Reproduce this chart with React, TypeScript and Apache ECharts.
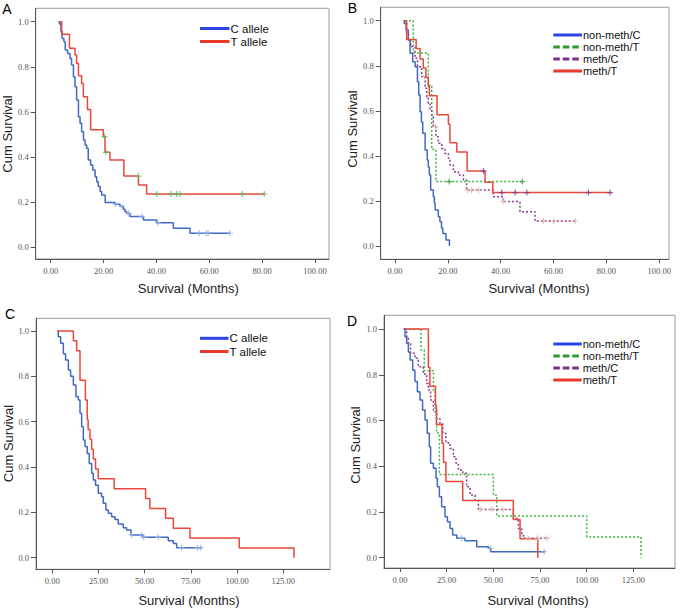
import React, { useEffect, useRef } from "react";
import * as echarts from "echarts";

// ---------- shared labels ----------
const panelLetters = ["A", "B", "C", "D"];
const xName = "Survival (Months)";
const yName = "Cum Survival";
const legendAllele = ["C allele", "T allele"];
const legendMeth = ["non-meth/C", "non-meth/T", "meth/C", "meth/T"];
const xTicks100 = [0, 20, 40, 60, 80, 100];
const xTicks125 = [0, 25, 50, 75, 100, 125];
const yTicks = [0, 0.2, 0.4, 0.6, 0.8, 1.0];

// ---------- Panel A ----------
const aCTime = [2.9, 3.3, 3.9, 4.3, 5.0, 5.5, 6.4, 7.3, 7.9, 8.6, 9.2, 9.8, 10.5, 11.1, 11.7, 12.4, 13.0, 13.6, 14.2, 15.1, 15.9, 16.8, 17.4, 18.0, 18.7, 19.3, 20.6, 24.3, 26.2, 27.5, 28.1, 28.7, 30.0, 35.1, 40.1, 46.4, 52.7, 67.8];
const aCSurv = [1.0, 0.99, 0.956, 0.926, 0.911, 0.874, 0.859, 0.837, 0.808, 0.756, 0.711, 0.652, 0.578, 0.549, 0.512, 0.475, 0.453, 0.438, 0.386, 0.364, 0.342, 0.312, 0.29, 0.268, 0.246, 0.231, 0.198, 0.19, 0.18, 0.168, 0.157, 0.149, 0.135, 0.12, 0.108, 0.083, 0.061, 0.061];
const aCCens = [24.5, 27.0, 29.5, 34.5, 40.5, 56.2, 58.8, 59.6, 67.8];
const aTTime = [3.3, 4.15, 7.1, 9.2, 9.8, 10.5, 11.7, 12.35, 13.9, 15.1, 19.9, 20.55, 22.4, 27.7, 33.2, 36.3, 80.8];
const aTSurv = [1.0, 0.944, 0.882, 0.852, 0.815, 0.76, 0.726, 0.667, 0.61, 0.52, 0.49, 0.42, 0.386, 0.315, 0.275, 0.235, 0.235];
const aTCens = [20.3, 20.9, 33.1, 40.1, 45.5, 47.7, 48.9, 72.5, 80.8];

// ---------- Panel B ----------
const bNCTime = [3.2, 3.5, 4.2, 5.05, 5.7, 6.7, 7.6, 8.5, 9.0, 9.5, 10.0, 10.5, 11.4, 12.2, 12.6, 13.0, 13.5, 14.5, 14.9, 15.2, 16.4, 17.0, 17.6, 18.1, 19.3, 20.6];
const bNCSurv = [1.0, 0.988, 0.959, 0.914, 0.855, 0.818, 0.796, 0.729, 0.67, 0.596, 0.55, 0.5, 0.426, 0.382, 0.35, 0.315, 0.249, 0.219, 0.19, 0.16, 0.13, 0.108, 0.08, 0.056, 0.027, 0.0];
const bNTTime = [3.8, 6.9, 12.6, 13.9, 15.5, 48.2];
const bNTSurv = [1.0, 0.857, 0.714, 0.429, 0.286, 0.286];
const bNTCens = [20.5, 48.2];
const bMCTime = [3.8, 4.4, 5.05, 5.9, 7.6, 8.5, 10.1, 11.4, 12.0, 12.6, 13.3, 13.9, 14.5, 15.5, 16.4, 17.7, 18.9, 20.2, 20.8, 22.1, 24.0, 25.9, 27.1, 37.2, 41.0, 47.3, 53.0, 68.2];
const bMCSurv = [1.0, 0.944, 0.914, 0.885, 0.833, 0.796, 0.752, 0.7, 0.663, 0.633, 0.604, 0.574, 0.53, 0.485, 0.456, 0.433, 0.411, 0.389, 0.36, 0.33, 0.315, 0.293, 0.249, 0.219, 0.197, 0.152, 0.111, 0.111];
const bMCCens = [15.2, 27.5, 29.0, 31.6, 41.0, 56.2, 60.0, 68.2];
const bMTTime = [3.5, 4.4, 8.0, 9.5, 10.7, 11.7, 12.6, 13.0, 15.9, 20.2, 20.8, 23.4, 27.3, 34.1, 37.0, 81.4];
const bMTSurv = [1.0, 0.917, 0.877, 0.83, 0.79, 0.75, 0.708, 0.667, 0.583, 0.54, 0.458, 0.417, 0.333, 0.283, 0.237, 0.237];
const bMTCens = [33.5, 40.4, 45.5, 49.9, 73.2, 81.4];

// ---------- Panel C ----------
const cCTime = [2.7, 3.2, 4.5, 6.0, 7.2, 8.7, 9.9, 11.4, 12.8, 14.1, 15.0, 15.9, 16.8, 17.7, 18.9, 20.0, 21.3, 22.2, 23.4, 24.9, 26.7, 27.6, 29.0, 30.3, 32.1, 33.9, 35.7, 38.4, 40.2, 42.6, 49.2, 62.8, 65.5, 67.3, 80.8];
const cCSurv = [1.0, 0.975, 0.946, 0.9, 0.872, 0.828, 0.8, 0.762, 0.71, 0.696, 0.637, 0.578, 0.519, 0.49, 0.46, 0.416, 0.372, 0.343, 0.32, 0.284, 0.269, 0.24, 0.21, 0.196, 0.181, 0.169, 0.149, 0.132, 0.122, 0.1, 0.09, 0.075, 0.063, 0.044, 0.044];
const cCCens = [42.9, 48.3, 49.5, 57.4, 70.0, 78.6, 80.3];
const cTTime = [2.7, 11.4, 13.2, 15.0, 17.9, 18.9, 19.4, 20.4, 21.3, 22.2, 23.4, 24.9, 33.5, 50.5, 52.8, 61.3, 65.5, 74.5, 101.2, 130.8];
const cTSurv = [1.0, 0.957, 0.913, 0.783, 0.696, 0.609, 0.565, 0.522, 0.478, 0.435, 0.391, 0.348, 0.304, 0.261, 0.217, 0.174, 0.13, 0.087, 0.043, 0.0];

// ---------- Panel D ----------
const dNCTime = [1.8, 2.7, 3.6, 4.5, 5.4, 6.8, 8.0, 9.3, 10.7, 12.1, 13.4, 14.6, 15.7, 16.4, 17.9, 19.3, 20.0, 21.1, 22.3, 24.1, 25.4, 26.8, 28.2, 30.4, 34.8, 41.1, 47.3, 48.6, 77.7];
const dNCSurv = [1.0, 0.966, 0.937, 0.9, 0.864, 0.82, 0.77, 0.726, 0.69, 0.646, 0.602, 0.544, 0.485, 0.413, 0.391, 0.347, 0.31, 0.267, 0.223, 0.179, 0.157, 0.128, 0.099, 0.085, 0.074, 0.048, 0.041, 0.026, 0.026];
const dNCCens = [33.0, 48.2, 77.2];
const dNTTime = [2.7, 11.25, 13.0, 17.9, 18.8, 19.6, 21.1, 50.0, 51.8, 100.0, 129.1];
const dNTSurv = [1.0, 0.909, 0.818, 0.727, 0.636, 0.545, 0.364, 0.273, 0.182, 0.091, 0.0];
const dMCTime = [2.7, 3.6, 4.5, 5.7, 8.0, 9.8, 12.5, 14.3, 15.2, 16.4, 17.9, 19.6, 21.4, 22.9, 24.6, 26.8, 28.6, 30.0, 31.3, 33.6, 35.7, 37.5, 40.2, 42.0, 60.7, 63.4, 65.2, 66.1, 79.5];
const dMCSurv = [1.0, 0.966, 0.937, 0.894, 0.872, 0.835, 0.803, 0.762, 0.733, 0.69, 0.646, 0.609, 0.587, 0.544, 0.503, 0.478, 0.442, 0.413, 0.383, 0.369, 0.31, 0.274, 0.252, 0.211, 0.172, 0.128, 0.106, 0.085, 0.085];
const dMCCens = [42.9, 49.1, 55.0, 68.6, 73.6, 78.6];
const dMTTime = [2.3, 15.2, 16.0, 19.0, 19.5, 22.5, 23.3, 24.6, 33.6, 60.7, 64.3, 73.8];
const dMTSurv = [1.0, 0.833, 0.75, 0.667, 0.583, 0.5, 0.417, 0.333, 0.25, 0.167, 0.083, 0.0];

// ---------- styles ----------
const BLUE = "#4169c4";
const RED = "#e8473b";
const GREEN = "#3fb83f";
const PURPLE = "#8b3a96";
const LEG_BLUE = "#2a44e8";
const LEG_RED = "#e8392b";
const LEG_GREEN = "#2e9a2e";
const LEG_PURPLE = "#7b2d8b";
const PLUS = "path://M4,0h2v4h4v2h-4v4h-2v-4h-4v-2h4z";

const panels = [
  { left: 35.7, top: 8.3, width: 293.3, height: 250.7, xmin: -5.68, xmax: 105.3, ymin: -0.0533, ymax: 1.0595, ticks: xTicks100 },
  { left: 380.7, top: 7.3, width: 288.3, height: 252, xmin: -5.41, xmax: 103.7, ymin: -0.059, ymax: 1.0595, ticks: xTicks100 },
  { left: 36, top: 318.3, width: 294, height: 251, xmin: -8.82, xmax: 150.3, ymin: -0.0512, ymax: 1.056, ticks: xTicks125 },
  { left: 384, top: 315.3, width: 291, height: 252.7, xmin: -8.57, xmax: 147.3, ymin: -0.045, ymax: 1.06, ticks: xTicks125 },
];

function survAt(times: number[], surv: number[], t: number) {
  let v = surv[0];
  for (let i = 0; i < times.length; i++) if (times[i] <= t) v = surv[i];
  return v;
}

function km(g: number, times: number[], surv: number[], color: string, dotted: boolean, z: number) {
  return {
    type: "line",
    xAxisIndex: g,
    yAxisIndex: g,
    step: "end",
    symbol: "none",
    showSymbol: false,
    silent: true,
    z,
    data: times.map((t, i) => [t, surv[i]]),
    lineStyle: { color, width: 1.5, type: dotted ? [2, 2] : "solid" },
    itemStyle: { color },
  };
}

function cens(g: number, times: number[], surv: number[], ct: number[], color: string, z: number) {
  return {
    type: "scatter",
    xAxisIndex: g,
    yAxisIndex: g,
    symbol: PLUS,
    symbolSize: 6,
    silent: true,
    z,
    data: ct.map((t) => [t, survAt(times, surv, t)]),
    itemStyle: { color },
  };
}

function legendBlock(x1: number, x2: number, ys: number[], names: string[], colors: string[], dashed: boolean[], fontSize: number) {
  const els: any[] = [];
  names.forEach((n, i) => {
    const style: any = { stroke: colors[i], lineWidth: 3, fill: null };
    if (dashed[i]) style.lineDash = [6.5, 3];
    els.push({
      type: "line",
      z: 100,
      shape: { x1, y1: ys[i], x2, y2: ys[i] },
      style,
      silent: true,
    });
    els.push({
      type: "text",
      z: 100,
      x: x2 + 1,
      y: ys[i],
      style: { text: n, fontSize, fontFamily: "Liberation Sans, Arial, sans-serif", fill: "#111", verticalAlign: "middle", align: "left" },
      silent: true,
    });
  });
  return els;
}

function textEl(text: string, x: number, y: number, size: number, rotate = false, fill = "#222") {
  return {
    type: "text",
    x,
    y,
    rotation: rotate ? Math.PI / 2 : 0,
    style: { text, fontSize: size, fontFamily: "Liberation Sans, Arial, sans-serif", fill, align: "center", verticalAlign: "middle" },
    silent: true,
  };
}

export default function App() {
  const ref = useRef<HTMLDivElement>(null);
  useEffect(() => {
    if (!ref.current) return;
    const chart = echarts.init(ref.current, undefined, { renderer: "svg" });
    const tickFont = { fontFamily: "Liberation Serif, serif", fontSize: 8.5, color: "#555" };
    const option: any = {
      animation: false,
      backgroundColor: "#ffffff",
      grid: panels.map((p) => ({
        left: p.left,
        top: p.top,
        width: p.width,
        height: p.height,
        show: true,
        borderColor: "#9a9a9a",
        borderWidth: 1,
        backgroundColor: "transparent",
      })),
      xAxis: panels.map((p, i) => ({
        type: "value",
        gridIndex: i,
        min: p.xmin,
        max: p.xmax,
        splitLine: { show: false },
        axisLine: { show: true, onZero: false, lineStyle: { color: "#555", width: 1 } },
        axisTick: { show: true, length: 4, customValues: p.ticks, lineStyle: { color: "#555" } },
        axisLabel: { show: true, customValues: p.ticks, margin: 7, formatter: (v: number) => v.toFixed(2), ...tickFont },
      })),
      yAxis: panels.map((p, i) => ({
        type: "value",
        gridIndex: i,
        min: p.ymin,
        max: p.ymax,
        splitLine: { show: false },
        axisLine: { show: true, onZero: false, lineStyle: { color: "#555", width: 1 } },
        axisTick: { show: true, length: 5, customValues: yTicks, lineStyle: { color: "#555" } },
        axisLabel: { show: true, customValues: yTicks, margin: 7, formatter: (v: number) => v.toFixed(1), ...tickFont },
      })),
      series: [
        // A
        km(0, aCTime, aCSurv, BLUE, false, 2),
        cens(0, aCTime, aCSurv, aCCens, "#8fb0e6", 5),
        km(0, aTTime, aTSurv, RED, false, 3),
        cens(0, aTTime, aTSurv, aTCens, "#5cb85c", 6),
        // B
        km(1, bNCTime, bNCSurv, BLUE, false, 2),
        km(1, bNTTime, bNTSurv, GREEN, true, 3),
        cens(1, bNTTime, bNTSurv, bNTCens, "#3a9a3a", 6),
        km(1, bMCTime, bMCSurv, PURPLE, true, 3),
        cens(1, bMCTime, bMCSurv, bMCCens, "#d9b7a0", 6),
        km(1, bMTTime, bMTSurv, RED, false, 4),
        cens(1, bMTTime, bMTSurv, bMTCens, "#7a3a8a", 6),
        // C
        km(2, cCTime, cCSurv, BLUE, false, 2),
        cens(2, cCTime, cCSurv, cCCens, "#8fb0e6", 5),
        km(2, cTTime, cTSurv, RED, false, 3),
        // D
        km(3, dNCTime, dNCSurv, BLUE, false, 2),
        cens(3, dNCTime, dNCSurv, dNCCens, "#8fb0e6", 5),
        km(3, dNTTime, dNTSurv, GREEN, true, 3),
        km(3, dMCTime, dMCSurv, PURPLE, true, 3),
        cens(3, dMCTime, dMCSurv, dMCCens, "#d9b7a0", 6),
        km(3, dMTTime, dMTSurv, RED, false, 4),
      ],
      graphic: [
        textEl(panelLetters[0], 7, 9, 14, false, "#000"),
        textEl(panelLetters[1], 352.5, 8, 14, false, "#000"),
        textEl(panelLetters[2], 10, 313.5, 14, false, "#000"),
        textEl(panelLetters[3], 352, 321, 14, false, "#000"),
        textEl(xName, 188.3, 288.3, 13),
        textEl(xName, 539, 288, 13),
        textEl(xName, 189, 600, 13),
        textEl(xName, 538, 600, 13),
        textEl(yName, 7.5, 134, 13, true),
        textEl(yName, 352.3, 129, 13, true),
        textEl(yName, 8.3, 443.5, 13, true),
        textEl(yName, 355, 445, 13, true),
        ...legendBlock(200, 229.5, [28.5, 41.5], legendAllele, [LEG_BLUE, LEG_RED], [false, false], 11.5),
        ...legendBlock(553.3, 582, [35, 47, 59, 71], legendMeth, [LEG_BLUE, LEG_GREEN, LEG_PURPLE, LEG_RED], [false, true, true, false], 11),
        ...legendBlock(200, 228.5, [338.3, 351.5], legendAllele, [LEG_BLUE, LEG_RED], [false, false], 11.5),
        ...legendBlock(553.3, 581.7, [344, 356, 368, 380], legendMeth, [LEG_BLUE, LEG_GREEN, LEG_PURPLE, LEG_RED], [false, true, true, false], 11),
      ],
    };
    chart.setOption(option);
    return () => chart.dispose();
  }, []);
  return <div ref={ref} style={{ position: "absolute", left: 0, top: 0, width: 682, height: 609 }} />;
}
